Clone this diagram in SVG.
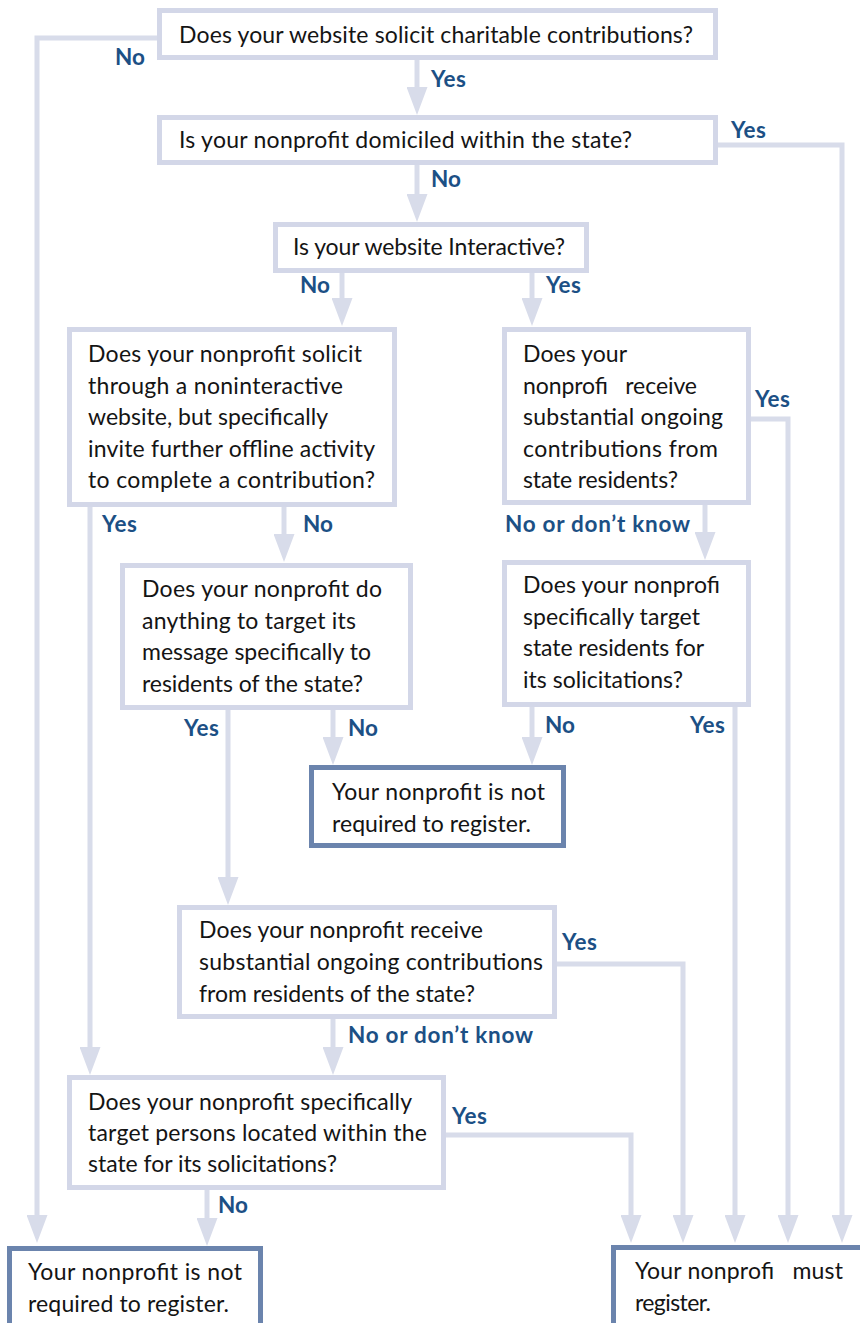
<svg xmlns="http://www.w3.org/2000/svg" width="860" height="1323" viewBox="0 0 860 1323">
<defs>
<marker id="ah" viewBox="0 0 28 21" markerWidth="28" markerHeight="21" markerUnits="userSpaceOnUse" refX="18" refY="10.5" orient="auto">
<path d="M0,0 L28,10.5 L0,21 Z" fill="#d8dcea"/>
</marker>
<style>
.q{fill:#fff;stroke:#d3d7e8;stroke-width:5}
.t{fill:#fff;stroke:#6b84ad;stroke-width:5}
.c{fill:none;stroke:#d8dcea;stroke-width:5}
.a{marker-end:url(#ah)}
.tx{font-family:Lato,"Open Sans","Liberation Sans",sans-serif;font-size:23px;fill:#141414;white-space:pre}
.lb{font-family:Lato,"Open Sans","Liberation Sans",sans-serif;font-size:22.5px;font-weight:bold;fill:#1c5085}
</style>
</defs>
<rect width="860" height="1323" fill="#fff"/>
<g id="connectors">
<path class="c a" d="M157,38 H37 V1233"/>
<path class="c a" d="M417,60 V105"/>
<path class="c a" d="M718,145 H842 V1233"/>
<path class="c a" d="M417,165 V212"/>
<path class="c a" d="M342,273 V316"/>
<path class="c a" d="M532,273 V316"/>
<path class="c a" d="M90,507 V1065"/>
<path class="c a" d="M284,507 V552"/>
<path class="c a" d="M751,419 H788 V1233"/>
<path class="c a" d="M705,505 V550"/>
<path class="c a" d="M228,710 V895"/>
<path class="c a" d="M333,710 V755"/>
<path class="c a" d="M532,707 V755"/>
<path class="c a" d="M735,707 V1233"/>
<path class="c a" d="M557,964 H683 V1233"/>
<path class="c a" d="M333,1019 V1065"/>
<path class="c a" d="M446,1135 H631 V1233"/>
<path class="c a" d="M207,1190 V1236"/>
</g>
<g id="labels">
<text class="lb" x="115" y="65" textLength="30">No</text>
<text class="lb" x="431" y="87" textLength="35">Yes</text>
<text class="lb" x="731" y="138" textLength="35">Yes</text>
<text class="lb" x="431" y="187" textLength="30">No</text>
<text class="lb" x="300" y="293" textLength="30">No</text>
<text class="lb" x="546" y="293" textLength="35">Yes</text>
<text class="lb" x="102" y="532" textLength="35">Yes</text>
<text class="lb" x="303" y="532" textLength="30">No</text>
<text class="lb" x="755" y="407" textLength="35">Yes</text>
<text class="lb" x="505" y="532" textLength="185">No or don’t know</text>
<text class="lb" x="184" y="736" textLength="35">Yes</text>
<text class="lb" x="348" y="736" textLength="30">No</text>
<text class="lb" x="545" y="733" textLength="30">No</text>
<text class="lb" x="690" y="733" textLength="35">Yes</text>
<text class="lb" x="562" y="950" textLength="35">Yes</text>
<text class="lb" x="348" y="1043" textLength="185">No or don’t know</text>
<text class="lb" x="452" y="1124" textLength="35">Yes</text>
<text class="lb" x="218" y="1213" textLength="30">No</text>
</g>
<g id="q1">
<rect class="q" x="159.5" y="10.5" width="556" height="47"/>
<text class="tx" x="179" y="43" textLength="514">Does your website solicit charitable contributions?</text>
</g>
<g id="q2">
<rect class="q" x="159.5" y="117.5" width="556" height="45"/>
<text class="tx" x="179" y="148" textLength="453">Is your nonprofit domiciled within the state?</text>
</g>
<g id="q3">
<rect class="q" x="275.5" y="224.5" width="311" height="46"/>
<text class="tx" x="293" y="255" textLength="272">Is your website Interactive?</text>
</g>
<g id="q4">
<rect class="q" x="69.5" y="329.5" width="325" height="175"/>
<text class="tx" x="88" y="362" textLength="274">Does your nonprofit solicit</text>
<text class="tx" x="88" y="393.5" textLength="255">through a noninteractive</text>
<text class="tx" x="88" y="425" textLength="240">website, but specifically</text>
<text class="tx" x="88" y="456.5" textLength="287">invite further offline activity</text>
<text class="tx" x="88" y="488" textLength="287">to complete a contribution?</text>
</g>
<g id="q5">
<rect class="q" x="504.5" y="329.5" width="244" height="173"/>
<text class="tx" x="523" y="362" textLength="104">Does your</text>
<text class="tx" x="523" y="393.5" textLength="174">nonprofi   receive</text>
<text class="tx" x="523" y="425" textLength="200">substantial ongoing</text>
<text class="tx" x="523" y="456.5" textLength="195">contributions from</text>
<text class="tx" x="523" y="488" textLength="155">state residents?</text>
</g>
<g id="q6">
<rect class="q" x="122.5" y="565.5" width="288" height="142"/>
<text class="tx" x="142" y="597" textLength="240">Does your nonprofit do</text>
<text class="tx" x="142" y="628.7" textLength="214">anything to target its</text>
<text class="tx" x="142" y="660.3" textLength="229">message specifically to</text>
<text class="tx" x="142" y="692" textLength="221">residents of the state?</text>
</g>
<g id="q7">
<rect class="q" x="504.5" y="562.5" width="244" height="142"/>
<text class="tx" x="523" y="593" textLength="197">Does your nonprofi</text>
<text class="tx" x="523" y="624.7" textLength="177">specifically target</text>
<text class="tx" x="523" y="656.3" textLength="181">state residents for</text>
<text class="tx" x="523" y="688" textLength="160">its solicitations?</text>
</g>
<g id="endA">
<rect class="t" x="311.5" y="767.5" width="252" height="78"/>
<text class="tx" x="332" y="800" textLength="213">Your nonprofit is not</text>
<text class="tx" x="332" y="832" textLength="199">required to register.</text>
</g>
<g id="q8">
<rect class="q" x="179.5" y="907.5" width="375" height="109"/>
<text class="tx" x="199" y="938" textLength="284">Does your nonprofit receive</text>
<text class="tx" x="199" y="970" textLength="344">substantial ongoing contributions</text>
<text class="tx" x="199" y="1002" textLength="276">from residents of the state?</text>
</g>
<g id="q9">
<rect class="q" x="69.5" y="1077.5" width="374" height="110"/>
<text class="tx" x="88" y="1110" textLength="324">Does your nonprofit specifically</text>
<text class="tx" x="88" y="1141" textLength="339">target persons located within the</text>
<text class="tx" x="88" y="1172" textLength="249">state for its solicitations?</text>
</g>
<g id="endB">
<rect class="t" x="9.5" y="1248.5" width="251" height="100"/>
<text class="tx" x="28" y="1280" textLength="214">Your nonprofit is not</text>
<text class="tx" x="28" y="1312" textLength="201">required to register.</text>
</g>
<g id="endC">
<rect class="t" x="613.5" y="1247.5" width="260" height="100"/>
<text class="tx" x="635" y="1279" textLength="208">Your nonprofi   must</text>
<text class="tx" x="635" y="1311" textLength="76">register.</text>
</g>
</svg>
